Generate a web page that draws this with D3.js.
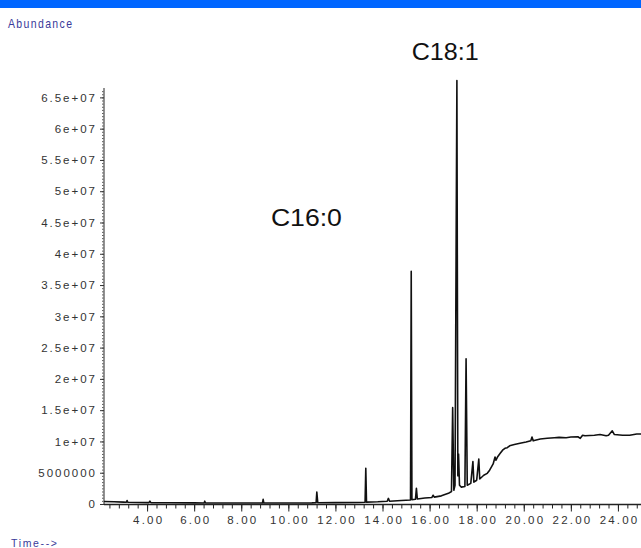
<!DOCTYPE html>
<html>
<head>
<meta charset="utf-8">
<script src="https://cdn.jsdelivr.net/npm/d3@7"></script>
<style>
  html, body { margin: 0; padding: 0; background: #fff; }
  svg { display: block; }
  text { font-family: "Liberation Sans", Arial, sans-serif; }
</style>
</head>
<body>
<div id="chart"></div>
<script>
// Retention time (min) of trace points
const times = [
  2.17, 2.6, 3.0, 3.12, 3.15, 3.18, 3.6, 4.08, 4.12, 4.16,
  5.0, 6.0, 6.42, 6.45, 6.48, 7.5, 8.5, 8.9, 8.93, 8.96,
  10.0, 11.0, 11.18, 11.21, 11.25, 12.0, 13.0, 13.26, 13.29, 13.32,
  13.8, 14.2, 14.25, 14.3, 14.8, 15.19, 15.22, 15.25, 15.4, 15.44,
  15.48, 15.8, 16.1, 16.15, 16.2, 16.5, 16.8, 16.93, 16.98, 17.03,
  17.08, 17.16, 17.2, 17.23, 17.27, 17.35, 17.5, 17.55, 17.6, 17.75,
  17.84, 17.88, 18.0, 18.09, 18.13, 18.3, 18.45, 18.55, 18.7, 18.78,
  18.82, 18.9, 19.0, 19.1, 19.2, 19.3, 19.4, 19.6, 19.84, 20.1,
  20.3, 20.35, 20.4, 20.7, 21.0, 21.3, 21.5, 21.8, 22.0, 22.3,
  22.4, 22.5, 22.6, 23.0, 23.24, 23.5, 23.6, 23.76, 23.85, 24.2,
  24.5, 24.8, 24.98
];
// Abundance of trace points
const abundance = [
  4.0e5, 3.6e5, 3.0e5, 2.8e5, 5.5e5, 2.8e5, 2.4e5, 2.2e5, 4.5e5, 2.2e5,
  2.0e5, 1.8e5, 1.7e5, 4.5e5, 1.7e5, 1.5e5, 1.5e5, 1.5e5, 7.5e5, 1.5e5,
  1.6e5, 1.8e5, 2.0e5, 1.9e6, 2.0e5, 2.2e5, 2.5e5, 2.8e5, 5.7e6, 3.0e5,
  3.5e5, 4.5e5, 9.0e5, 4.5e5, 5.5e5, 6.5e5, 3.72e7, 7.0e5, 7.5e5, 2.5e6,
  8.0e5, 9.5e5, 1.05e6, 1.4e6, 1.1e6, 1.3e6, 1.7e6, 2.0e6, 1.54e7, 2.2e6,
  3.0e6, 6.77e7, 4.5e6, 8.0e6, 3.0e6, 2.7e6, 2.8e6, 2.32e7, 3.0e6, 3.3e6,
  6.8e6, 3.5e6, 3.8e6, 7.2e6, 4.0e6, 4.6e6, 4.9e6, 5.4e6, 6.4e6, 7.5e6,
  7.0e6, 7.6e6, 8.1e6, 8.6e6, 8.9e6, 9.0e6, 9.3e6, 9.5e6, 9.7e6, 9.9e6,
  1.01e7, 1.07e7, 1.01e7, 1.04e7, 1.05e7, 1.06e7, 1.065e7, 1.06e7, 1.07e7, 1.075e7,
  1.05e7, 1.1e7, 1.09e7, 1.1e7, 1.11e7, 1.09e7, 1.1e7, 1.17e7, 1.11e7, 1.1e7,
  1.1e7, 1.12e7, 1.12e7
];
const yTickValues = [0, 5e6, 1e7, 1.5e7, 2e7, 2.5e7, 3e7, 3.5e7, 4e7, 4.5e7, 5e7, 5.5e7, 6e7, 6.5e7];
const yTickLabels = ["0", "5000000", "1e+07", "1.5e+07", "2e+07", "2.5e+07", "3e+07", "3.5e+07", "4e+07", "4.5e+07", "5e+07", "5.5e+07", "6e+07", "6.5e+07"];
const xTickValues = [4, 6, 8, 10, 12, 14, 16, 18, 20, 22, 24];
const xTickLabels = ["4.00", "6.00", "8.00", "10.00", "12.00", "14.00", "16.00", "18.00", "20.00", "22.00", "24.00"];
const peakLabels = ["C16:0", "C18:1"];
const peakLabelTimes = [9.26, 15.24];
const peakLabelValues = [4.44e7, 7.10e7];
const xDomain = [2.17, 24.98];
const yDomain = [0, 6.65e7];

const W = 641, H = 548;
const svg = d3.select("#chart").append("svg").attr("width", W).attr("height", H);

// header bar
svg.append("rect").attr("x", 0).attr("y", 0).attr("width", W).attr("height", 8).attr("fill", "#0066ff");

const x = d3.scaleLinear().domain(xDomain).range([104, 641]);
const y = d3.scaleLinear().domain(yDomain).range([504, 88]);

// Arial-like advance widths (em)
const adv = c => (c === "." ? 0.278 : c === "+" ? 0.584 : 0.556);
// place each character of a label separately, spaced out
function spaceOut(sel, fs, ls, anchor) {
  sel.each(function () {
    const t = d3.select(this);
    const s = this.textContent;
    const ws = s.split("").map(c => adv(c) * fs);
    const total = d3.sum(ws) + (s.length - 1) * ls;
    const ax = +t.attr("x") || 0;
    let x0 = anchor === "end" ? ax - total : ax - total / 2;
    t.text(null).attr("text-anchor", "start").attr("x", null)
      .style("font-size", fs + "px");
    s.split("").forEach((c, i) => {
      t.append("tspan").attr("x", x0).text(c);
      x0 += ws[i] + ls;
    });
  });
}

// y minor ticks
const yMinor = d3.range(0, 6.65e7, 5e5);
const yAxisMinor = d3.axisLeft(y).tickValues(yMinor).tickSize(2).tickFormat("");
const gyMin = svg.append("g").attr("transform", "translate(104,0)").call(yAxisMinor);
gyMin.select(".domain").remove();
gyMin.selectAll("line").attr("stroke", "#333").attr("stroke-width", 0.8);

// y major axis
const yAxis = d3.axisLeft(y).tickValues(yTickValues).tickSize(4).tickPadding(5)
  .tickFormat((d, i) => yTickLabels[i]);
const gy = svg.append("g").attr("transform", "translate(104,0)").call(yAxis);
gy.attr("font-family", "'Liberation Sans', Arial, sans-serif");
gy.select(".domain").attr("d", `M0,${y(yDomain[1])}V${y(0)}`).attr("stroke", "#777").attr("stroke-width", 1.6);
gy.selectAll("line").attr("stroke", "#333");
gy.selectAll("text").attr("fill", "#333");
spaceOut(gy.selectAll("text"), 11.5, 2.0, "end");

// x minor ticks
const xMinor = d3.range(0, 57).map(k => +(2.4 + 0.4 * k).toFixed(2)).filter(v => v <= 24.98);
const xAxisMinor = d3.axisBottom(x).tickValues(xMinor).tickSize(4).tickFormat("");
const gxMin = svg.append("g").attr("transform", "translate(0,504.5)").call(xAxisMinor);
gxMin.select(".domain").remove();
gxMin.selectAll("line").attr("stroke", "#222");

const xAxis = d3.axisBottom(x).tickValues(xTickValues).tickSize(7).tickPadding(4)
  .tickFormat((d, i) => xTickLabels[i]);
const gx = svg.append("g").attr("transform", "translate(0,504.5)").call(xAxis);
gx.attr("font-family", "'Liberation Sans', Arial, sans-serif");
gx.select(".domain").attr("d", `M104,0H641`).attr("stroke", "#222").attr("stroke-width", 1.4);
gx.selectAll("line").attr("stroke", "#222");
gx.selectAll("text").attr("fill", "#333");
spaceOut(gx.selectAll("text"), 11.5, 2.2, "middle");

// trace
const pts = times.map((t, i) => [t, abundance[i]]);
const line = d3.line().x(d => x(d[0])).y(d => y(d[1]));
svg.append("path").datum(pts).attr("d", line)
  .attr("fill", "none").attr("stroke", "#111").attr("stroke-width", 1.6)
  .attr("stroke-linejoin", "round");

// peak labels
svg.selectAll("text.peak").data(peakLabels).join("text").attr("class", "peak")
  .attr("x", (d, i) => x(peakLabelTimes[i]))
  .attr("y", (d, i) => y(peakLabelValues[i]))
  .attr("font-size", 23).attr("fill", "#111")
  .attr("textLength", (d, i) => i === 0 ? 71 : 67)
  .attr("lengthAdjust", "spacingAndGlyphs")
  .text(d => d);

// Abundance / Time labels
svg.append("text").attr("transform", "translate(8,27.5) scale(1,1.2)")
  .attr("font-size", 10.5).attr("fill", "#3a3a9a")
  .attr("textLength", 64).attr("lengthAdjust", "spacing").text("Abundance");
svg.append("text").attr("transform", "translate(11,546.5) scale(1,1.1)")
  .attr("font-size", 10.5).attr("fill", "#3a3a9a")
  .attr("textLength", 46).attr("lengthAdjust", "spacing").text("Time-->");
</script>
</body>
</html>
